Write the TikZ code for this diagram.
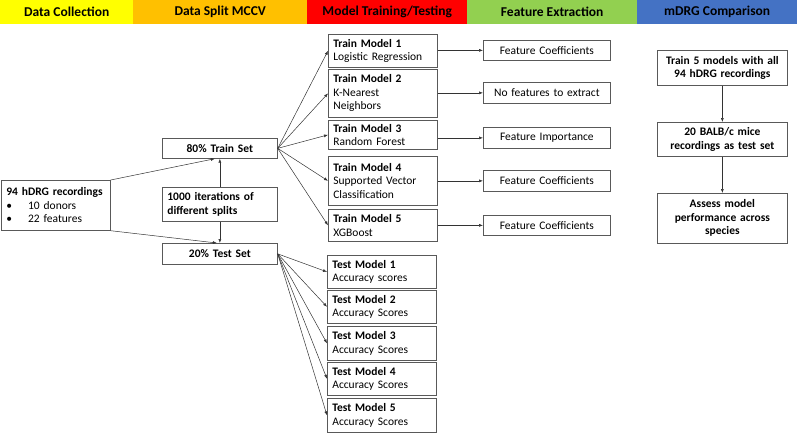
\documentclass[tikz,border=0pt]{standalone}
\usepackage{fontspec}
\setmainfont{Carlito}
\usetikzlibrary{arrows.meta,positioning}
\definecolor{hdryellow}{RGB}{255,255,0}
\definecolor{hdrorange}{RGB}{255,192,0}
\definecolor{hdrred}{RGB}{255,0,0}
\definecolor{hdrgreen}{RGB}{146,208,80}
\definecolor{hdrblue}{RGB}{68,114,196}

\begin{document}
\begin{tikzpicture}[x=1pt,y=-1pt,>={Latex[length=4pt,width=3pt]},
  hdr/.style={anchor=north west,minimum height=24pt,inner sep=0pt,
    font=\fontsize{13.5}{16}\selectfont\bfseries},
  box/.style={draw=black!65,line width=0.7pt,anchor=north west,
    inner xsep=5pt,inner ysep=0pt,align=left,
    font=\fontsize{11.5}{13.5}\selectfont},
  cbox/.style={box,align=center},
  bbox/.style={cbox,font=\fontsize{11.5}{13.5}\selectfont\bfseries},
  link/.style={->,black!80,line width=0.5pt}]
  \useasboundingbox (0,0) rectangle (797,434);

  % column headers
  \node[hdr,fill=hdryellow,minimum width=133pt] (hcollect) at (0,0) {Data Collection};
  \node[hdr,fill=hdrorange,minimum width=174pt] (hsplit) at (133,0) {Data Split MCCV};
  \node[hdr,fill=hdrred,minimum width=160pt] (htrain) at (307,0) {Model Training/Testing};
  \node[hdr,fill=hdrgreen,minimum width=170pt] (hfeat) at (467,0) {Feature Extraction};
  \node[hdr,fill=hdrblue,minimum width=160pt] (hmdrg) at (637,0) {mDRG Comparison};

  % data and split
  \node[box,text width=99pt,minimum height=50pt] (hdrg) at (1,180)
    {\textbf{94 hDRG recordings}\\
     \textbullet\hspace{1.4em}10 donors\\
     \textbullet\hspace{1.4em}22 features};
  \node[bbox,text width=105pt,minimum height=20pt] (trainset) at (162,138) {80\% Train Set};
  \node[bbox,align=left,text width=105pt,minimum height=34pt] (iter) at (162,187)
    {1000 iterations of\\different splits};
  \node[bbox,text width=105pt,minimum height=21pt] (testset) at (162,243) {20\% Test Set};

  \draw[link] (hdrg.north east) -- ([xshift=-5pt]trainset.south);
  \draw[link] (hdrg.south east) -- ([xshift=-3pt]testset.north);
  \draw[link] (iter) -- (trainset);
  \draw[link] (iter) -- (testset);

  % train models
  \node[box,text width=99pt,minimum height=33pt] (trainA) at (328,34)
    {\textbf{Train Model 1}\\Logistic Regression};
  \node[box,text width=99pt,minimum height=48pt] (trainB) at (328,69)
    {\textbf{Train Model 2}\\K-Nearest\\Neighbors};
  \node[box,text width=99pt,minimum height=29pt] (trainC) at (328,120)
    {\textbf{Train Model 3}\\Random Forest};
  \node[box,text width=99pt,minimum height=49pt] (trainD) at (328,156)
    {\textbf{Train Model 4}\\Supported Vector\\Classification};
  \node[box,text width=99pt,minimum height=32pt] (trainE) at (328,209)
    {\textbf{Train Model 5}\\XGBoost};

  % test models
  \node[box,text width=99pt,minimum height=33pt] (testA) at (327,255)
    {\textbf{Test Model 1}\\Accuracy scores};
  \node[box,text width=99pt,minimum height=33pt] (testB) at (327,290)
    {\textbf{Test Model 2}\\Accuracy Scores};
  \node[box,text width=99pt,minimum height=34pt] (testC) at (327,326)
    {\textbf{Test Model 3}\\Accuracy Scores};
  \node[box,text width=99pt,minimum height=33pt] (testD) at (327,362)
    {\textbf{Test Model 4}\\Accuracy Scores};
  \node[box,text width=99pt,minimum height=34pt] (testE) at (327,398)
    {\textbf{Test Model 5}\\Accuracy Scores};

  \foreach \m in {trainA,trainB,trainC,trainD,trainE}
    \draw[link] (trainset.east) -- (\m.west);
  \foreach \m in {testA,testB,testC,testD,testE}
    \draw[link] (testset.east) -- (\m.west);

  % extracted features
  \node[cbox,text width=117pt,minimum height=20pt] (featA) at (483,40) {Feature Coefficients};
  \node[cbox,text width=117pt,minimum height=21pt] (featB) at (483,82) {No features to extract};
  \node[cbox,text width=117pt,minimum height=21pt] (featC) at (483,127) {Feature Importance};
  \node[cbox,text width=117pt,minimum height=21pt] (featD) at (483,170) {Feature Coefficients};
  \node[cbox,text width=117pt,minimum height=20pt] (featE) at (483,215) {Feature Coefficients};

  \draw[link] (trainA.east |- featA) -- (featA.west);
  \draw[link] (trainB.east |- featB) -- (featB.west);
  \draw[link] (trainC.east |- featC) -- (featC.west);
  \draw[link] (trainD.east |- featD) -- (featD.west);
  \draw[link] (trainE.east |- featE) -- (featE.west);

  % mouse comparison
  \node[bbox,text width=120pt,minimum height=35pt] (allhdrg) at (657,50)
    {Train 5 models with all\\94 hDRG recordings};
  \node[bbox,text width=120pt,minimum height=34pt] (mice) at (657,122)
    {20 BALB/c mice\\recordings as test set};
  \node[bbox,text width=120pt,minimum height=50pt] (assess) at (657,193)
    {Assess model\\performance across\\species};

  \draw[link] (allhdrg) -- (mice);
  \draw[link] (mice) -- (assess);
\end{tikzpicture}
\end{document}
